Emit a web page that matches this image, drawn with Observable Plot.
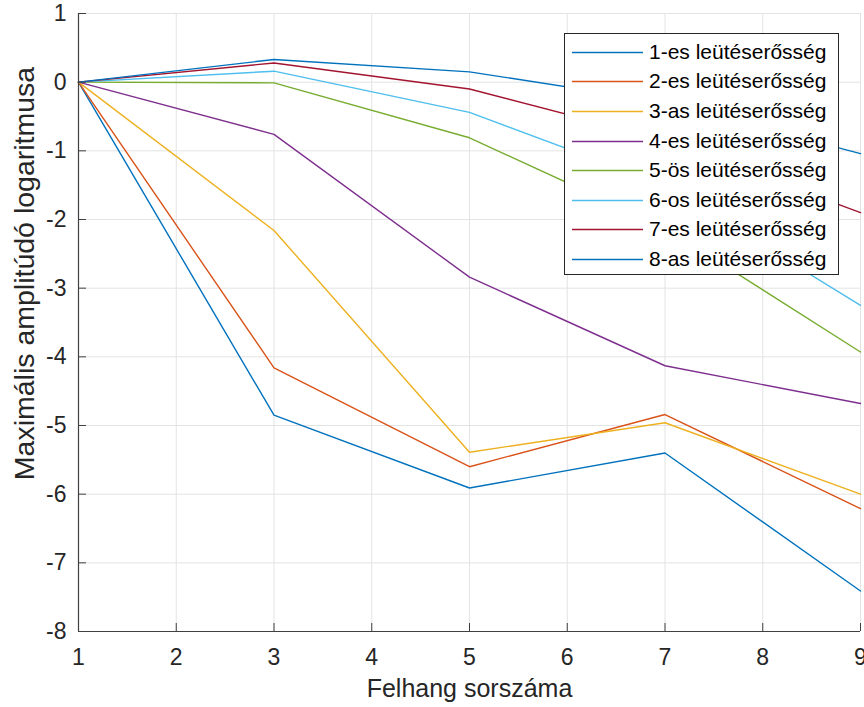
<!DOCTYPE html>
<html>
<head>
<meta charset="utf-8">
<script src="https://cdn.jsdelivr.net/npm/d3@7"></script>
<script src="https://cdn.jsdelivr.net/npm/@observablehq/plot@0.6"></script>
<style>
html, body { margin: 0; padding: 0; background: #fff; }
#wrap { position: relative; width: 864px; height: 707px; font-family: "Liberation Sans", Arial, sans-serif; }
#wrap > svg { position: absolute; left: 0; top: 0; }
#legend { position: absolute; left: 564px; top: 33px; width: 275px; height: 242px; border: 1px solid #262626; background: #fff; box-sizing: border-box; }
#legend .row { position: absolute; left: 0; height: 30px; width: 100%; }
#legend .row svg { position: absolute; left: 7px; top: 14px; }
#legend .row span { position: absolute; left: 84px; top: 0; line-height: 30px; font-size: 21px; color: #000; white-space: nowrap; }
</style>
</head>
<body>
<div id="wrap"></div>
<script>
// x positions (harmonic index)
const xs = [1, 3, 5, 7, 9];
const seriesNames = [
  "1-es leütéserősség", "2-es leütéserősség", "3-as leütéserősség", "4-es leütéserősség",
  "5-ös leütéserősség", "6-os leütéserősség", "7-es leütéserősség", "8-as leütéserősség"
];
const s1 = [0, -4.85, -5.91, -5.40, -7.41];
const s2 = [0, -4.16, -5.60, -4.84, -6.21];
const s3 = [0, -2.16, -5.39, -4.96, -6.00];
const s4 = [0, -0.76, -2.84, -4.13, -4.68];
const s5 = [0, -0.01, -0.81, -2.12, -3.93];
const s6 = [0, 0.16, -0.44, -1.50, -3.25];
const s7 = [0, 0.28, -0.10, -0.84, -1.90];
const s8 = [0, 0.33, 0.15, -0.29, -1.04];
const colors = ["#0072BD", "#D95319", "#EDB120", "#7E2F8E", "#77AC30", "#4DBEEE", "#A2142F", "#0072BD"];
const xTicks = [1, 2, 3, 4, 5, 6, 7, 8, 9];
const yTicks = [-8, -7, -6, -5, -4, -3, -2, -1, 0, 1];
const xLabel = "Felhang sorszáma";
const yLabel = "Maximális amplitúdó logaritmusa";

const allSeries = [s1, s2, s3, s4, s5, s6, s7, s8];
const data = allSeries.flatMap((s, i) => s.map((v, j) => ({x: xs[j], y: v, series: seriesNames[i]})));

const chart = Plot.plot({
  width: 864,
  height: 707,
  marginLeft: 78,
  marginRight: 4,
  marginTop: 13,
  marginBottom: 76,
  style: {fontFamily: "'Liberation Sans', Arial, sans-serif", background: "#fff", color: "#262626"},
  x: {domain: [1, 9]},
  y: {domain: [-8, 1]},
  color: {domain: seriesNames, range: colors},
  marks: [
    Plot.gridX(xTicks, {stroke: "#e3e3e3", strokeOpacity: 1, strokeWidth: 1}),
    Plot.gridY(yTicks, {stroke: "#e3e3e3", strokeOpacity: 1, strokeWidth: 1}),
    Plot.line(data, {x: "x", y: "y", stroke: "series", z: "series", strokeWidth: 1.4}),
    Plot.ruleX([1], {stroke: "#404040", strokeWidth: 1.2}),
    Plot.ruleY([-8], {stroke: "#404040", strokeWidth: 1.2}),
    Plot.axisX(xTicks, {tickSize: -8, tickPadding: 25, tickFormat: d => String(d), fontSize: 23, label: null, stroke: "#404040"}),
    Plot.axisY(yTicks, {tickSize: -8, tickPadding: 20, tickFormat: d => String(d), fontSize: 23, label: null, stroke: "#404040"}),
    Plot.text([xLabel], {text: d => d, frameAnchor: "bottom", dy: 65, fontSize: 25, fill: "#262626"}),
    Plot.text([yLabel], {text: d => d, frameAnchor: "left", textAnchor: "middle", dx: -54, dy: -49, rotate: -90, fontSize: 28.5, fill: "#262626"})
  ]
});

const wrap = document.getElementById("wrap");
wrap.appendChild(chart);

// Legend
const legend = document.createElement("div");
legend.id = "legend";
seriesNames.forEach((name, i) => {
  const row = document.createElement("div");
  row.className = "row";
  row.style.top = (2.7 + i * 29.6) + "px";
  row.innerHTML = `<svg width="71" height="3"><line x1="0" x2="71" y1="1.5" y2="1.5" stroke="${colors[i]}" stroke-width="1.4"/></svg><span>${name}</span>`;
  legend.appendChild(row);
});
wrap.appendChild(legend);
</script>
</body>
</html>
